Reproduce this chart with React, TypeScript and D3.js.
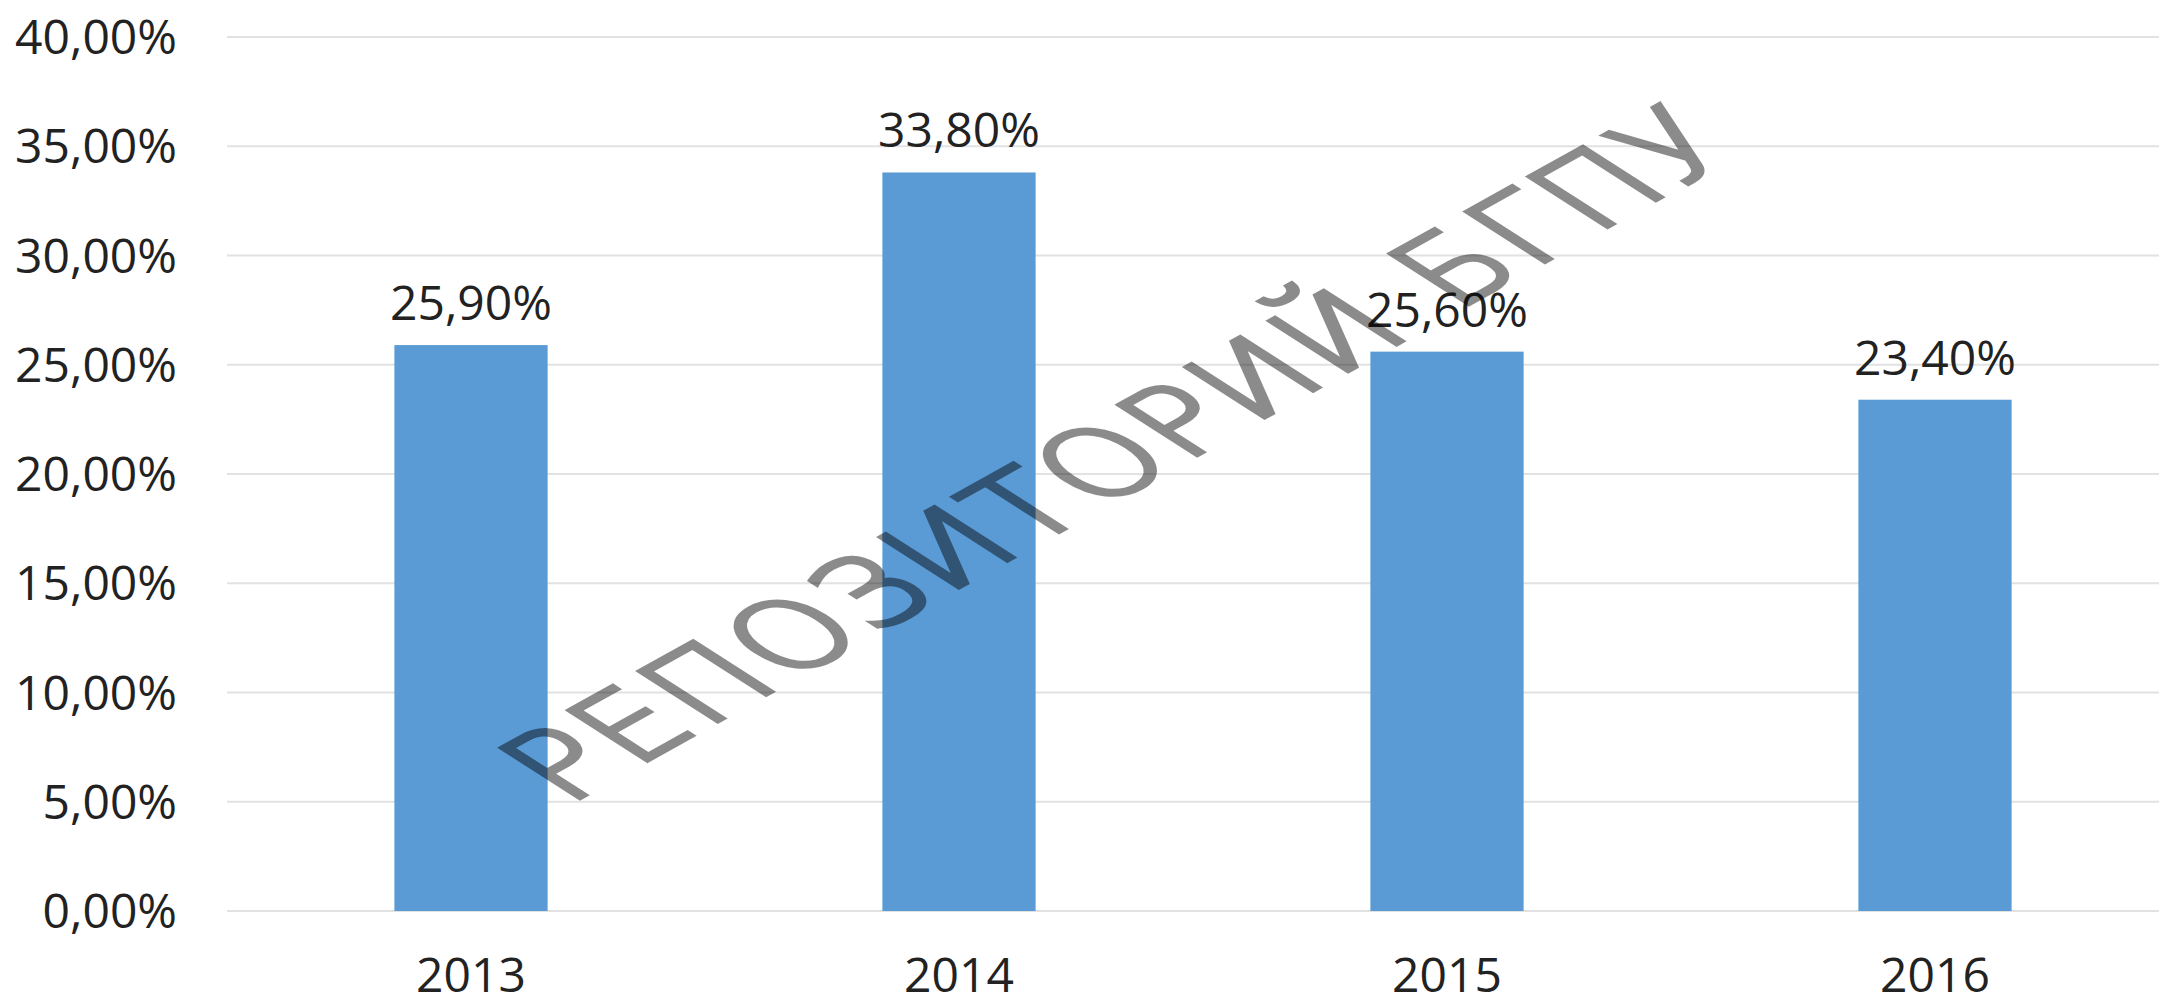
import React from 'react';
import * as d3 from 'd3';

// chart values
const years = ['2013', '2014', '2015', '2016'];
const shares = [25.9, 33.8, 25.6, 23.4];
const yTicks = [0, 5, 10, 15, 20, 25, 30, 35, 40];
const watermark = 'РЕПОЗИТОРИЙ БГПУ';

const W = 2159;
const H = 1002;
const margin = { top: 37, bottom: 91, left: 227 };

const fmt = (v: number) => v.toFixed(2).replace('.', ',') + '%';

const App = () => {
  // x scale: bands run past the right edge, like the cropped original
  const x = d3.scaleBand<string>()
    .domain(years)
    .range([margin.left, 2179])
    .paddingInner(0.686)
    .paddingOuter(0.343);

  const y = d3.scaleLinear()
    .domain([0, 40])
    .range([H - margin.bottom, margin.top]);

  const font = '"Open Sans", sans-serif';

  return (
    <svg width={W} height={H} style={{ position: 'absolute', left: 0, top: 0, background: '#fff' }}>
      {/* gridlines */}
      {yTicks.map(t => (
        <line key={'g' + t} x1={margin.left} x2={W} y1={y(t)} y2={y(t)}
          stroke="#e2e2e2" strokeWidth={2} />
      ))}
      {/* y tick labels */}
      {yTicks.map(t => (
        <text key={'t' + t} x={177} y={y(t) + 17} textAnchor="end"
          fontFamily={font} fontSize={48} fill="#222">{fmt(t)}</text>
      ))}
      {/* bars */}
      {years.map((yr, i) => (
        <rect key={yr} x={x(yr)} y={y(shares[i])} width={x.bandwidth()}
          height={y(0) - y(shares[i])} fill="#5b9bd5" />
      ))}
      {/* value labels */}
      {years.map((yr, i) => (
        <text key={'v' + yr} x={(x(yr) as number) + x.bandwidth() / 2} y={y(shares[i]) - 25}
          textAnchor="middle" fontFamily={font} fontSize={48} fill="#222">{fmt(shares[i])}</text>
      ))}
      {/* year labels */}
      {years.map(yr => (
        <text key={'x' + yr} x={(x(yr) as number) + x.bandwidth() / 2} y={992}
          textAnchor="middle" fontFamily={font} fontSize={48} fill="#222">{yr}</text>
      ))}
      {/* watermark, skewed like the stretched original */}
      <g opacity={0.45}>
        <text transform="matrix(1.175,-0.653,1.189,0.762,567,805)"
          fontFamily='"DejaVu Sans", sans-serif' fontSize={90} fontWeight={200}
          textLength={1000} lengthAdjust="spacing"
          fill="#000" stroke="#000" strokeWidth={4} strokeLinejoin="miter">{watermark}</text>
      </g>
    </svg>
  );
};

export default App;
